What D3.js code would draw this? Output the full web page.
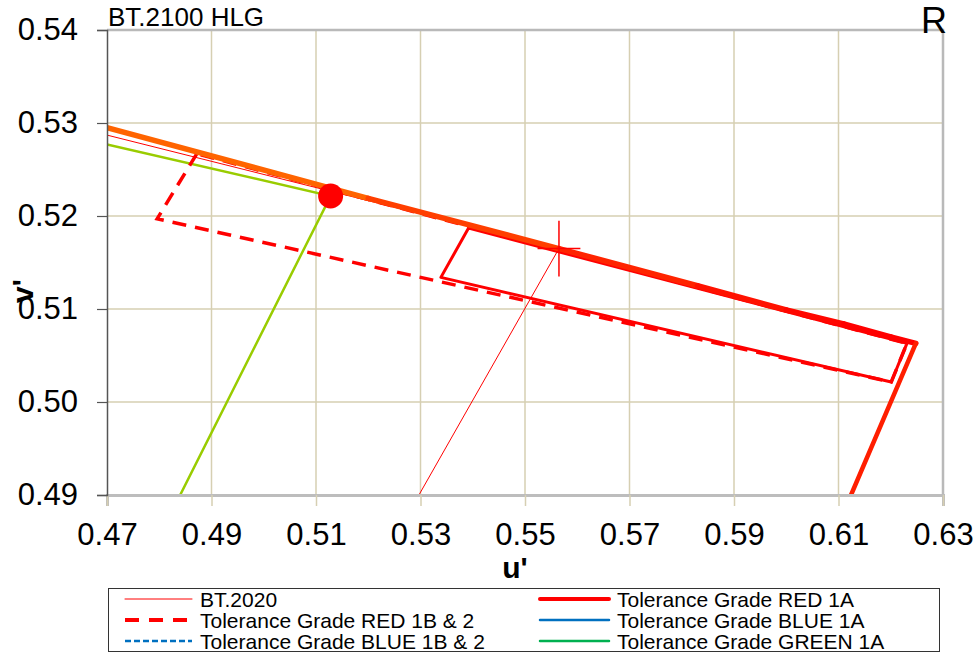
<!DOCTYPE html>
<html>
<head>
<meta charset="utf-8">
<script src="https://cdn.jsdelivr.net/npm/d3@7"></script>
<style>
  body { margin: 0; background: #fff; }
  svg { display: block; font-family: "Liberation Sans", Arial, sans-serif; }
</style>
</head>
<body>
<div id="svg-container"></div>
<script>
// ---------------- data (u', v') ----------------
const uTicks = [0.47, 0.49, 0.51, 0.53, 0.55, 0.57, 0.59, 0.61, 0.63];
const vTicks = [0.49, 0.50, 0.51, 0.52, 0.53, 0.54];

// spectral locus (red end) + line of purples
const locusU = [0.470, 0.520, 0.5565, 0.583, 0.600, 0.611, 0.620, 0.6248];
const locusV = [0.5295, 0.5219, 0.5165, 0.5125, 0.5099, 0.5084, 0.5070, 0.5063];
const purpleU = [0.6248, 0.6124];
const purpleV = [0.5063, 0.4900];

// BT.2020 gamut edges around the red primary
const bt2020U = [0.470, 0.5565, 0.5297];
const bt2020V = [0.5287, 0.5165, 0.4900];
const redPrimary = { u: 0.5565, v: 0.5165, du: 0.0041, dv: 0.0030 };

// measured display gamut edges around R
const gamutU = [0.470, 0.5128, 0.4840];
const gamutV = [0.5277, 0.52215, 0.4900];
const measuredR = { u: 0.5128, v: 0.52215 };

// tolerance regions
const red1AU = [0.5392, 0.6231, 0.6201, 0.5339];
const red1AV = [0.5187, 0.5063, 0.50215, 0.5134];
const red1BU = [0.4872, 0.4796, 0.6201, 0.6231];
const red1BV = [0.5267, 0.5197, 0.50215, 0.5063];

const legendLabels = [
  "BT.2020", "Tolerance Grade RED 1A",
  "Tolerance Grade RED 1B & 2", "Tolerance Grade BLUE 1A",
  "Tolerance Grade BLUE 1B & 2", "Tolerance Grade GREEN 1A"
];

// ---------------- init ----------------
const width = 978, height = 653;
const margin = { top: 30, right: 35, bottom: 158, left: 107 };

const svg = d3.select("#svg-container").append("svg")
  .attr("width", width).attr("height", height);

const x = d3.scaleLinear().domain([0.47, 0.63]).range([margin.left, width - margin.right]);
const y = d3.scaleLinear().domain([0.49, 0.54]).range([height - margin.bottom, margin.top]);

const zip = (us, vs) => us.map((u, i) => [u, vs[i]]);
const line = d3.line().x(d => x(d[0])).y(d => y(d[1]));

// clip
svg.append("clipPath").attr("id", "plot-clip").append("rect")
  .attr("x", x(0.47)).attr("y", y(0.54))
  .attr("width", x(0.63) - x(0.47)).attr("height", y(0.49) - y(0.54));

// grid
const grid = svg.append("g").attr("stroke", "#d6cfb2").attr("stroke-width", 1.5);
grid.selectAll(".gx").data(uTicks.slice(1, -1)).join("line")
  .attr("x1", d => x(d)).attr("x2", d => x(d))
  .attr("y1", y(0.54)).attr("y2", y(0.49));
grid.selectAll(".gy").data(vTicks.slice(1, -1)).join("line")
  .attr("x1", x(0.47)).attr("x2", x(0.63))
  .attr("y1", d => y(d)).attr("y2", d => y(d));

// plot frame (top / right)
svg.append("path")
  .attr("d", `M${x(0.47)},${y(0.54)}H${x(0.63)}V${y(0.49)}`)
  .attr("fill", "none").attr("stroke", "#b9b9b9").attr("stroke-width", 2.5);

const plot = svg.append("g").attr("clip-path", "url(#plot-clip)");

// measured gamut (yellow-green)
plot.append("path").datum(zip(gamutU, gamutV)).attr("d", line)
  .attr("fill", "none").attr("stroke", "#99cc00").attr("stroke-width", 2.5);

// BT.2020 thin line
plot.append("path").datum(zip(bt2020U, bt2020V)).attr("d", line)
  .attr("fill", "none").attr("stroke", "#ff0000").attr("stroke-width", 1);

// RED 1B & 2 (dashed)
plot.append("path").datum(zip(red1BU, red1BV)).attr("d", d => line(d) + "Z")
  .attr("fill", "none").attr("stroke", "#ff0000").attr("stroke-width", 3.5)
  .attr("stroke-dasharray", "14,9");

// RED 1A
plot.append("path").datum(zip(red1AU, red1AV)).attr("d", d => line(d) + "Z")
  .attr("fill", "none").attr("stroke", "#ff0000").attr("stroke-width", 3)
  .attr("stroke-linejoin", "round");

// spectral locus, coloured along wavelength
const locusColor = d3.scaleLinear().domain([0.47, 0.55, 0.61])
  .range(["#ff6400", "#ff2800", "#ff0000"]);
const locus = zip(locusU, locusV);
plot.selectAll(".locus").data(d3.pairs(locus)).join("line")
  .attr("x1", d => x(d[0][0])).attr("y1", d => y(d[0][1]))
  .attr("x2", d => x(d[1][0])).attr("y2", d => y(d[1][1]))
  .attr("stroke", d => locusColor(d[0][0]))
  .attr("stroke-width", 5.5).attr("stroke-linecap", "round");
plot.append("path").datum(zip(purpleU, purpleV)).attr("d", line)
  .attr("fill", "none").attr("stroke", "#ff1e00").attr("stroke-width", 4.5)
  .attr("stroke-linecap", "round");

// BT.2020 red primary cross
plot.append("line")
  .attr("x1", x(redPrimary.u - redPrimary.du)).attr("x2", x(redPrimary.u + redPrimary.du))
  .attr("y1", y(redPrimary.v)).attr("y2", y(redPrimary.v))
  .attr("stroke", "#ff0000").attr("stroke-width", 1.5);
plot.append("line")
  .attr("x1", x(redPrimary.u)).attr("x2", x(redPrimary.u))
  .attr("y1", y(redPrimary.v - redPrimary.dv)).attr("y2", y(redPrimary.v + redPrimary.dv))
  .attr("stroke", "#ff0000").attr("stroke-width", 1.5);

// measured R point
plot.append("circle")
  .attr("cx", x(measuredR.u)).attr("cy", y(measuredR.v)).attr("r", 12.5)
  .attr("fill", "#ff0000");

// ---------------- axes ----------------
const xAxis = svg.append("g")
  .attr("transform", `translate(0,${y(0.49)})`)
  .call(d3.axisBottom(x).tickValues(uTicks).tickFormat(d3.format(".2f"))
    .tickSize(11).tickPadding(17));
xAxis.select(".domain").attr("stroke", "#bdbdbd").attr("stroke-width", 3);
xAxis.selectAll(".tick line").attr("stroke", "#d6cfb2").attr("stroke-width", 1.5);
xAxis.selectAll("text").attr("font-size", 31).attr("fill", "#000")
  .attr("font-family", "Liberation Sans, Arial, sans-serif");

const yAxis = svg.append("g")
  .attr("transform", `translate(${x(0.47)},0)`)
  .call(d3.axisLeft(y).tickValues(vTicks).tickFormat(d3.format(".2f"))
    .tickSize(10).tickPadding(19));
yAxis.select(".domain").attr("stroke", "#555").attr("stroke-width", 1.5);
yAxis.selectAll(".tick line").attr("stroke", "#555").attr("stroke-width", 1.2);
yAxis.selectAll("text").attr("font-size", 31).attr("fill", "#000")
  .attr("font-family", "Liberation Sans, Arial, sans-serif");

// axis titles
svg.append("text").attr("x", 515).attr("y", 578)
  .attr("text-anchor", "middle").attr("font-size", 30).attr("font-weight", "bold")
  .text("u'");
svg.append("text").attr("transform", "translate(33,291) rotate(-90)")
  .attr("text-anchor", "middle").attr("font-size", 30).attr("font-weight", "bold")
  .text("v'");

// corner labels
svg.append("text").attr("x", 108).attr("y", 26).attr("font-size", 26).text("BT.2100 HLG");
svg.append("text").attr("x", 947).attr("y", 33).attr("text-anchor", "end")
  .attr("font-size", 36).text("R");

// ---------------- legend ----------------
const legendStyles = [
  { color: "#ff0000", w: 1, dash: null },
  { color: "#ff0000", w: 4, dash: null },
  { color: "#ff0000", w: 4, dash: "14,10" },
  { color: "#0070c0", w: 2.5, dash: null },
  { color: "#0070c0", w: 2.5, dash: "6,3" },
  { color: "#00b050", w: 2.5, dash: null }
];
const legend = svg.append("g");
legend.append("rect").attr("x", 108.5).attr("y", 588.5)
  .attr("width", 831).attr("height", 63)
  .attr("fill", "#fff").attr("stroke", "#333").attr("stroke-width", 1);

const items = legend.selectAll(".item").data(legendLabels).join("g")
  .attr("transform", (d, i) => `translate(${i % 2 ? 540 : 125},${599 + Math.floor(i / 2) * 21})`);
items.append("line").attr("x1", 0).attr("x2", (d, i) => i % 2 ? 69 : 67)
  .attr("stroke", (d, i) => legendStyles[i].color)
  .attr("stroke-width", (d, i) => legendStyles[i].w)
  .attr("stroke-dasharray", (d, i) => legendStyles[i].dash)
  .attr("stroke-linecap", (d, i) => legendStyles[i].dash ? "butt" : "round");
items.append("text").attr("x", (d, i) => i % 2 ? 77 : 75).attr("y", 7.5)
  .attr("font-size", 21).text(d => d);
</script>
</body>
</html>
